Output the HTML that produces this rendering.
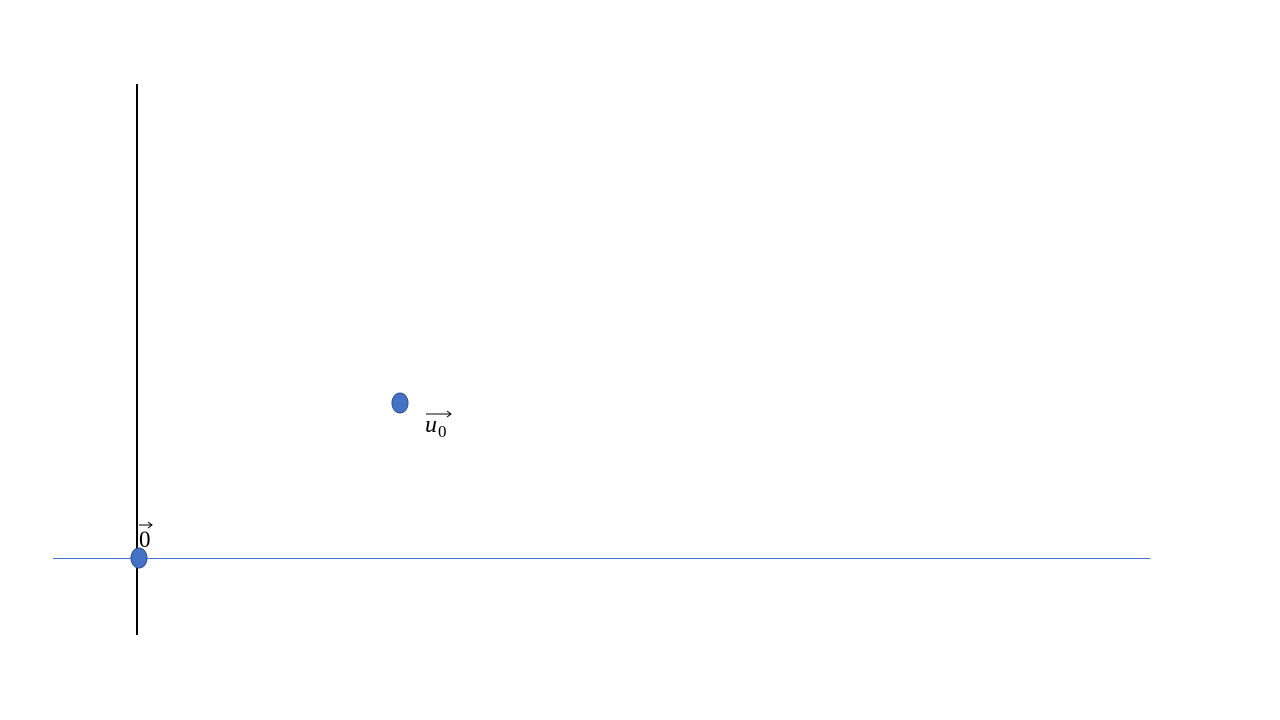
<!DOCTYPE html>
<html><head><meta charset="utf-8"><style>
html,body{margin:0;padding:0;background:#fff;}
svg{display:block;}
</style></head><body>
<svg id="chart" width="1280" height="720" viewBox="0 0 1280 720" xmlns="http://www.w3.org/2000/svg">
<line x1="137" y1="84" x2="137" y2="635" stroke="#000" stroke-width="2"/>
<line x1="53" y1="558.5" x2="1150" y2="558.5" stroke="#4472C4" stroke-width="1"/>
<g id="points"></g>
</svg>
<script>
const pointLabels = ["0", "u0"];
const xValues = [0, 1];
const yValues = [0, 1];
const xScale = v => 139 + v * 261;
const yScale = v => 558 - v * 155;
const ns = "http://www.w3.org/2000/svg";
const g = document.getElementById("points");
xValues.forEach((xv, i) => {
  const c = document.createElementNS(ns, "ellipse");
  
  
  c.setAttribute("cx", xScale(xv));
  c.setAttribute("cy", yScale(yValues[i]));
  c.setAttribute("rx", 8);
  c.setAttribute("ry", 10);
  c.setAttribute("fill", "#4472C4");
  c.setAttribute("stroke", "#2F528F");
  c.setAttribute("stroke-width", "1");
  g.appendChild(c);
});
const l0 = document.createElementNS(ns, "g");


l0.innerHTML = '<text x="139" y="547" font-family="Liberation Serif, serif" font-size="23" fill="#000">0</text>' +
  '<line x1="139" y1="525" x2="151" y2="525" stroke="#000" stroke-width="1"/>' +
  '<path d="M148 522 L152 525 L148 528" fill="none" stroke="#000" stroke-width="1"/>';
l0.setAttribute("transform", "translate(" + (xScale(xValues[0]) - 139) + "," + (yScale(yValues[0]) - 558) + ")");
g.appendChild(l0);
const l1 = document.createElementNS(ns, "g");


l1.innerHTML = '<text x="425" y="432" font-family="Liberation Serif, serif" font-style="italic" font-size="24" fill="#000">u</text>' +
  '<text x="438" y="437" font-family="Liberation Serif, serif" font-size="17" fill="#000">0</text>' +
  '<line x1="426" y1="414" x2="451" y2="414" stroke="#000" stroke-width="1"/>' +
  '<path d="M447 411 L451 414 L447 417" fill="none" stroke="#000" stroke-width="1"/>';
l1.setAttribute("transform", "translate(" + (xScale(xValues[1]) - 400) + "," + (yScale(yValues[1]) - 403) + ")");
g.appendChild(l1);
</script>
</body></html>
